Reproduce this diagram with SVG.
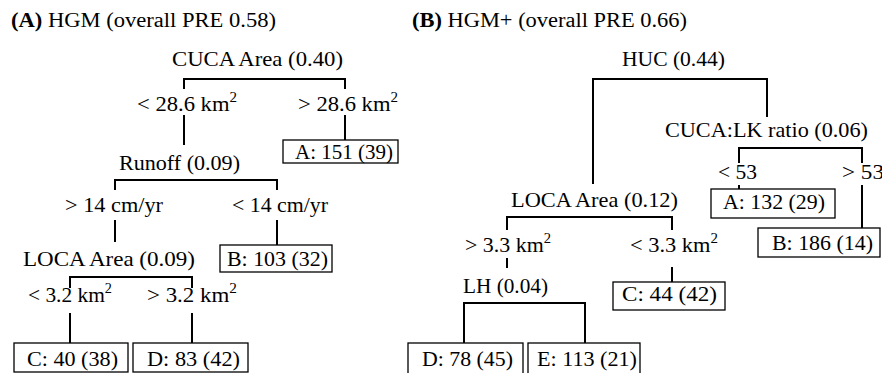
<svg xmlns="http://www.w3.org/2000/svg" width="882" height="373" viewBox="0 0 882 373">
<style>
.t{font-family:"Liberation Serif","Times New Roman",serif;font-size:21px;fill:#000}
.ttl{font-size:20px}
.b{font-weight:bold}
.sup{font-size:14px}
.box{fill:#fff;stroke:#000;stroke-width:1.3}
.ln{stroke:#000;stroke-width:2;fill:none}
</style>
<rect width="882" height="373" fill="#fff"/>
<g id="titles">
<text class="t ttl" x="11" y="27" textLength="265" lengthAdjust="spacingAndGlyphs"><tspan class="b">(A)</tspan> HGM (overall PRE 0.58)</text>
<text class="t ttl" x="412" y="27" textLength="275" lengthAdjust="spacingAndGlyphs"><tspan class="b">(B)</tspan> HGM+ (overall PRE 0.66)</text>
</g>
<g id="connectors">
<path class="ln" d="M184,89V79H345V89"/>
<path class="ln" d="M184,115V145"/>
<path class="ln" d="M345,115V140"/>
<path class="ln" d="M115,190V180H277V190"/>
<path class="ln" d="M115,220V242"/>
<path class="ln" d="M277,220V245"/>
<path class="ln" d="M70,288V277H192V288"/>
<path class="ln" d="M70,313V343"/>
<path class="ln" d="M192,313V343"/>
<path class="ln" d="M593,184V79H767V117"/>
<path class="ln" d="M739,163V148H862V163"/>
<path class="ln" d="M739,185V189"/>
<path class="ln" d="M862,185V228"/>
<path class="ln" d="M507,230V217H672V230"/>
<path class="ln" d="M507,258V268"/>
<path class="ln" d="M672,267V282"/>
<path class="ln" d="M464,343V303H585V343"/>
</g>
<g id="edge-labels">
<text class="t" x="137" y="111" textLength="100" lengthAdjust="spacingAndGlyphs">&lt; 28.6 km<tspan class="sup" dy="-9">2</tspan></text>
<text class="t" x="298" y="111" textLength="100" lengthAdjust="spacingAndGlyphs">&gt; 28.6 km<tspan class="sup" dy="-9">2</tspan></text>
<text class="t" x="65" y="212" textLength="98" lengthAdjust="spacingAndGlyphs">&gt; 14 cm/yr</text>
<text class="t" x="232" y="212" textLength="96" lengthAdjust="spacingAndGlyphs">&lt; 14 cm/yr</text>
<text class="t" x="28" y="302" textLength="84" lengthAdjust="spacingAndGlyphs">&lt; 3.2 km<tspan class="sup" dy="-9">2</tspan></text>
<text class="t" x="147" y="302" textLength="90" lengthAdjust="spacingAndGlyphs">&gt; 3.2 km<tspan class="sup" dy="-9">2</tspan></text>
<text class="t" x="718" y="179" textLength="39" lengthAdjust="spacingAndGlyphs">&lt; 53</text>
<text class="t" x="842" y="179" textLength="42" lengthAdjust="spacingAndGlyphs">&gt; 53</text>
<text class="t" x="465" y="252" textLength="86" lengthAdjust="spacingAndGlyphs">&gt; 3.3 km<tspan class="sup" dy="-9">2</tspan></text>
<text class="t" x="630" y="252" textLength="88" lengthAdjust="spacingAndGlyphs">&lt; 3.3 km<tspan class="sup" dy="-9">2</tspan></text>
</g>
<g id="A-root"><text class="t" x="172" y="66" textLength="171" lengthAdjust="spacingAndGlyphs">CUCA Area (0.40)</text></g>
<g id="A-runoff"><text class="t" x="119" y="170" textLength="121" lengthAdjust="spacingAndGlyphs">Runoff (0.09)</text></g>
<g id="A-loca"><text class="t" x="23" y="266" textLength="172" lengthAdjust="spacingAndGlyphs">LOCA Area (0.09)</text></g>
<g id="A-leafA"><rect class="box" x="283" y="140" width="115" height="23"/><text class="t" x="295" y="159" textLength="98" lengthAdjust="spacingAndGlyphs">A: 151 (39)</text></g>
<g id="A-leafB"><rect class="box" x="220" y="245" width="112" height="27"/><text class="t" x="227" y="266" textLength="101" lengthAdjust="spacingAndGlyphs">B: 103 (32)</text></g>
<g id="A-leafC"><rect class="box" x="14" y="343" width="114" height="29"/><text class="t" x="27" y="366" textLength="91" lengthAdjust="spacingAndGlyphs">C: 40 (38)</text></g>
<g id="A-leafD"><rect class="box" x="133" y="343" width="115" height="29"/><text class="t" x="147" y="366" textLength="93" lengthAdjust="spacingAndGlyphs">D: 83 (42)</text></g>
<g id="B-root"><text class="t" x="622" y="66" textLength="103" lengthAdjust="spacingAndGlyphs">HUC (0.44)</text></g>
<g id="B-ratio"><text class="t" x="665" y="137" textLength="203" lengthAdjust="spacingAndGlyphs">CUCA:LK ratio (0.06)</text></g>
<g id="B-loca"><text class="t" x="511" y="207" textLength="167" lengthAdjust="spacingAndGlyphs">LOCA Area (0.12)</text></g>
<g id="B-lh"><text class="t" x="463" y="293" textLength="85" lengthAdjust="spacingAndGlyphs">LH (0.04)</text></g>
<g id="B-leafA"><rect class="box" x="711" y="189" width="124" height="29"/><text class="t" x="723" y="209" textLength="102" lengthAdjust="spacingAndGlyphs">A: 132 (29)</text></g>
<g id="B-leafB"><rect class="box" x="758" y="228" width="122" height="29"/><text class="t" x="772" y="250" textLength="101" lengthAdjust="spacingAndGlyphs">B: 186 (14)</text></g>
<g id="B-leafC"><rect class="box" x="613" y="282" width="112" height="28"/><text class="t" x="622" y="301" textLength="95" lengthAdjust="spacingAndGlyphs">C: 44 (42)</text></g>
<g id="B-leafD"><rect class="box" x="408" y="343" width="115" height="32"/><text class="t" x="422" y="366" textLength="91" lengthAdjust="spacingAndGlyphs">D: 78 (45)</text></g>
<g id="B-leafE"><rect class="box" x="528" y="343" width="112" height="32"/><text class="t" x="537" y="366" textLength="100" lengthAdjust="spacingAndGlyphs">E: 113 (21)</text></g>
</svg>
